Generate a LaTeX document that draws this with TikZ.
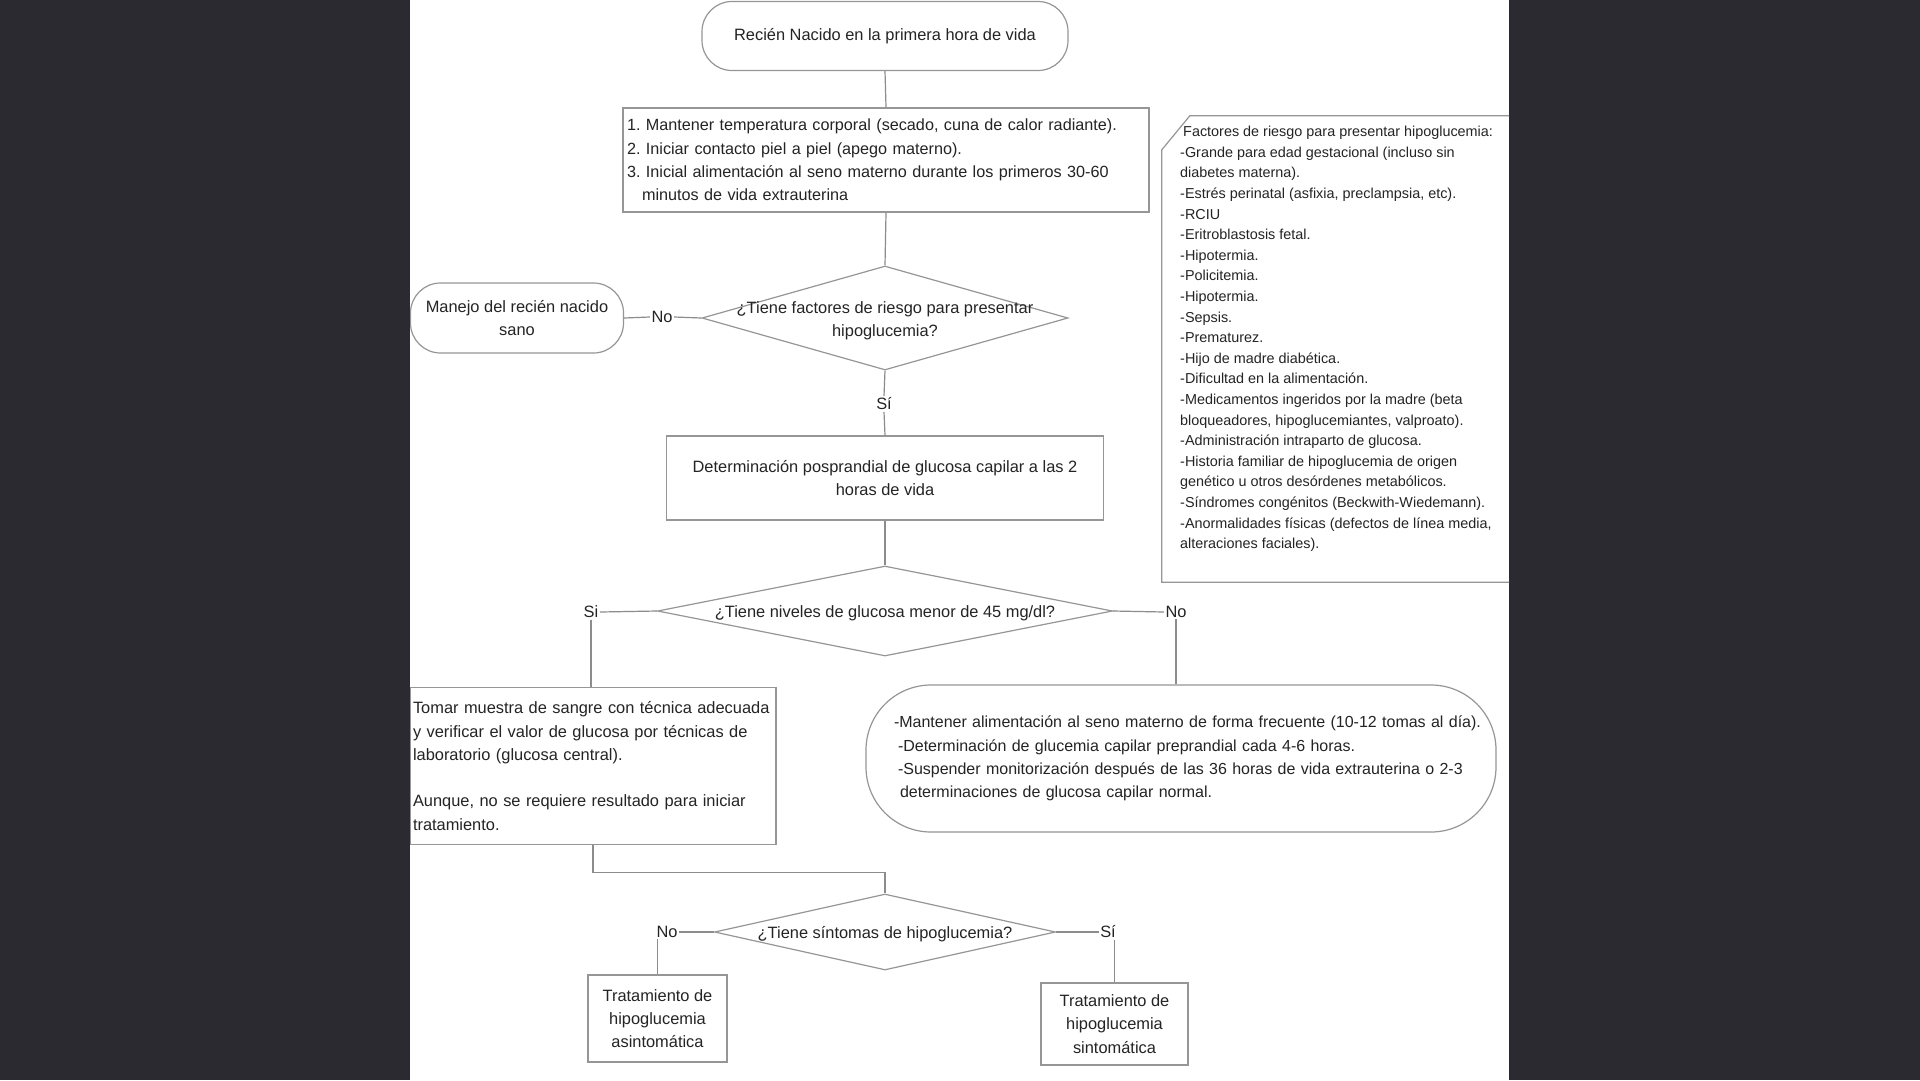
\documentclass[tikz,border=0pt]{standalone}
\usepackage{fontspec}
\setmainfont{Liberation Sans}
\usetikzlibrary{shapes.geometric,calc}
\definecolor{bgc}{RGB}{42,42,48}
\definecolor{ln}{RGB}{140,140,140}
\definecolor{bx}{RGB}{150,150,150}
\definecolor{tx}{RGB}{36,36,36}
\newcommand{\zc}[1]{\makebox[0pt]{\raisebox{-6.5pt}[0pt][0pt]{\begin{tabular}[c]{@{}c@{}}#1\end{tabular}}}}
\tikzset{
  base/.style={font=\fontsize{16.4}{23.3}\selectfont\frenchspacing, text=tx},
  term/.style={base, draw=bx, line width=1.2pt, rounded corners=30pt, inner sep=0pt, align=center},
  box/.style={base, draw=bx, line width=1.2pt, rectangle, inner sep=0pt, align=center},
  dec/.style={base, draw=bx, line width=1.2pt, diamond, inner sep=0pt},
  lbl/.style={base, inner sep=1.5pt},
  conn/.style={draw=ln, line width=1.2pt},
  boxst/.style={draw=bx, line width=1.2pt},
}
\begin{document}
\begin{tikzpicture}[x=1pt,y=-1pt]
\useasboundingbox (0,0) rectangle (1920,1080);
\fill[bgc] (0,0) rectangle (1920,1080);
\fill[white] (410,0) rectangle (1509,1080);
\begin{scope}
\clip (410,0) rectangle (1509,1080);
\node[term, minimum width=366pt, minimum height=69pt] (top) at (885,36) {Recién Nacido en la primera hora de vida};
\node[box, font=\fontsize{16.2}{23.3}\selectfont\frenchspacing, minimum width=526pt, minimum height=104pt, text width=518pt, align=left] (b1) at (886,160) {1. Mantener temperatura corporal (secado, cuna de calor radiante).\\ 2. Iniciar contacto piel a piel (apego materno).\\ 3. Inicial alimentación al seno materno durante los primeros 30-60\\ \hspace*{15pt}minutos de vida extrauterina};
\node[dec, minimum width=366pt, minimum height=104pt] (d1) at (885,318) {\zc{¿Tiene factores de riesgo para presentar\\hipoglucemia?}};
\node[term, minimum width=213pt, minimum height=70pt] (man) at (517,318) {Manejo del recién nacido\\sano};
\node[lbl] (no1) at (662,317) {No};
\node[lbl] (si1) at (884,404) {Sí};
\node[box, minimum width=437pt, minimum height=84pt] (b2) at (885,478) {Determinación posprandial de glucosa capilar a las 2\\horas de vida};
\node[dec, minimum width=455pt, minimum height=90pt] (d2) at (885,611) {\zc{¿Tiene niveles de glucosa menor de 45 mg/dl?}};
\node[lbl] (si2) at (591,612) {Si};
\node[lbl] (no2) at (1176,612) {No};
\node[box, minimum width=366pt, minimum height=157pt, text width=360pt, align=left] (b3) at (593,766) {Tomar muestra de sangre con técnica adecuada\\ y verificar el valor de glucosa por técnicas de\\ laboratorio (glucosa central).\\[23.3pt] Aunque, no se requiere resultado para iniciar\\ tratamiento.};
\node[term, font=\fontsize{16}{23.3}\selectfont\frenchspacing, rounded corners=65pt, minimum width=630pt, minimum height=147pt, text width=600pt, align=left] (b4) at (1181,758.5) {\hspace*{13pt}\mbox{-Mantener alimentación al seno materno de forma frecuente (10-12 tomas al día).}\\ \hspace*{17pt}\mbox{-Determinación de glucemia capilar preprandial cada 4-6 horas.}\\ \hspace*{17pt}\mbox{-Suspender monitorización después de las 36 horas de vida extrauterina o 2-3}\\ \hspace*{19pt}\mbox{determinaciones de glucosa capilar normal.}};
\node[dec, minimum width=341pt, minimum height=76pt] (d3) at (885,932) {\zc{¿Tiene síntomas de hipoglucemia?}};
\node[lbl] (no3) at (667,932) {No};
\node[lbl] (si3) at (1108,932) {Sí};
\node[box, minimum width=139pt, minimum height=87pt] (b5) at (657.5,1018.5) {Tratamiento de\\hipoglucemia\\asintomática};
\node[box, minimum width=147pt, minimum height=82pt] (b6) at (1114.5,1024) {Tratamiento de\\hipoglucemia\\sintomática};
\node[minimum width=353pt, minimum height=466pt, inner sep=0pt] (risk) at (1338.5,349) {};
\draw[boxst] ([yshift=-34pt]risk.north west) -- ([xshift=28pt]risk.north west) -- (risk.north east) -- (risk.south east) -- (risk.south west) -- cycle;
\node[base, font=\fontsize{14.4}{20.6}\selectfont\frenchspacing, align=left, anchor=north west, inner sep=0pt] (rtxt) at (1180,126) {\hspace*{3pt}Factores de riesgo para presentar hipoglucemia:\\
-Grande para edad gestacional (incluso sin\\
diabetes materna).\\
-Estrés perinatal (asfixia, preclampsia, etc).\\
-RCIU\\
-Eritroblastosis fetal.\\
-Hipotermia.\\
-Policitemia.\\
-Hipotermia.\\
-Sepsis.\\
-Prematurez.\\
-Hijo de madre diabética.\\
-Dificultad en la alimentación.\\
-Medicamentos ingeridos por la madre (beta\\
bloqueadores, hipoglucemiantes, valproato).\\
-Administración intraparto de glucosa.\\
-Historia familiar de hipoglucemia de origen\\
genético u otros desórdenes metabólicos.\\
-Síndromes congénitos (Beckwith-Wiedemann).\\
-Anormalidades físicas (defectos de línea media,\\
alteraciones faciales).};
\draw[conn] (top.south) -- (b1.north);
\draw[conn] (b1.south) -- (d1.north);
\draw[conn] (man.east) -- (no1.west);
\draw[conn] (no1.east) -- (d1.west);
\draw[conn] (d1.south) -- (si1.north);
\draw[conn] (si1.south) -- (b2.north);
\draw[conn] (b2.south) -- (d2.north);
\draw[conn] (d2.west) -- (si2.east);
\draw[conn] (si2.south) -- (si2.south |- b3.north);
\draw[conn] (d2.east) -- (no2.west);
\draw[conn] (no2.south) -- (no2.south |- b4.north);
\draw[conn] (b3.south) -- ++(0,27) -| (d3.north);
\draw[conn] (d3.west) -- (no3.east);
\draw[conn] (b5.north) -- (b5.north |- no3.south);
\draw[conn] (d3.east) -- (si3.west);
\draw[conn] (b6.north) -- (b6.north |- si3.south);
\end{scope}
\end{tikzpicture}
\end{document}
